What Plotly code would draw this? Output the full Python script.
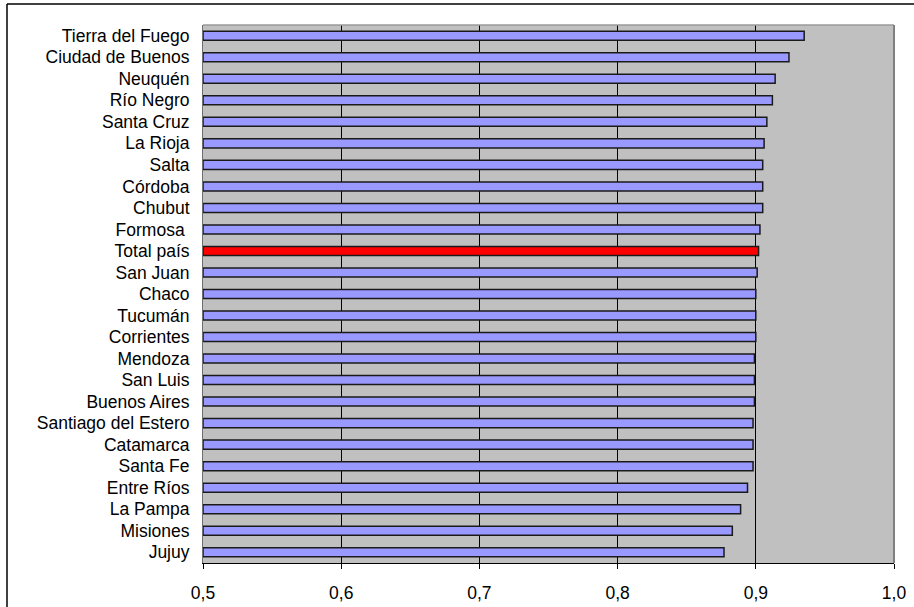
import plotly.graph_objects as go

# Province indicator values (top to bottom)
provincias = [
    "Tierra del Fuego", "Ciudad de Buenos", "Neuquén", "Río Negro", "Santa Cruz",
    "La Rioja", "Salta", "Córdoba", "Chubut", "Formosa\u00a0", "Total país",
    "San Juan", "Chaco", "Tucumán", "Corrientes", "Mendoza", "San Luis",
    "Buenos Aires", "Santiago del Estero", "Catamarca", "Santa Fe",
    "Entre Ríos", "La Pampa", "Misiones", "Jujuy",
]
valores = [
    0.935, 0.924, 0.914, 0.912, 0.908,
    0.906, 0.905, 0.905, 0.905, 0.903, 0.902,
    0.901, 0.900, 0.900, 0.900, 0.899, 0.899,
    0.899, 0.898, 0.898, 0.898,
    0.894, 0.889, 0.883, 0.877,
]
tick_vals = [0.5, 0.6, 0.7, 0.8, 0.9, 1.0]
tick_text = ["0,5", "0,6", "0,7", "0,8", "0,9", "1,0"]

base = 0.5
colores = ["#FF0000" if p == "Total país" else "#9999FF" for p in provincias]

W, H = 914, 607
L, R, T, B = 203, 894, 25, 563  # plot area in pixels


def px_x(x):
    return (x - L) / (R - L)


def px_y(y):
    return (B - y) / (B - T)


fig = go.Figure(
    go.Bar(
        y=provincias,
        x=[v - base for v in valores],
        base=base,
        orientation="h",
        width=0.42,
        marker=dict(color=colores, line=dict(color="#1a1a1a", width=1.5)),
        hovertemplate="%{y}: %{customdata}<extra></extra>",
        customdata=valores,
    )
)

font = dict(family="Liberation Sans, Arial, sans-serif", size=17.5, color="#000000")

fig.update_layout(
    width=W,
    height=H,
    margin=dict(l=L, r=W - R, t=T, b=H - B, pad=0),
    paper_bgcolor="#FFFFFF",
    plot_bgcolor="#C0C0C0",
    showlegend=False,
    font=font,
    xaxis=dict(
        range=[0.5, 1.0],
        tickmode="array",
        tickvals=tick_vals,
        ticktext=tick_text,
        showgrid=True,
        gridcolor="#000000",
        gridwidth=1,
        zeroline=False,
        showline=True,
        linecolor="#000000",
        linewidth=1,
        ticks="outside",
        ticklen=5,
        tickcolor="#000000",
        tickfont=font,
        ticklabelstandoff=9,
        automargin=False,
        fixedrange=True,
    ),
    yaxis=dict(
        categoryorder="array",
        categoryarray=provincias,
        tickmode="array",
        tickvals=provincias,
        ticktext=provincias,
        autorange="reversed",
        showgrid=False,
        zeroline=False,
        showline=True,
        linecolor="#6e6e6e",
        linewidth=1,
        ticks="",
        tickfont=font,
        ticklabelstandoff=9,
        automargin=False,
        fixedrange=True,
    ),
    shapes=[
        # plot area frame (top and right)
        dict(type="line", xref="paper", yref="paper", x0=0, x1=1, y0=1, y1=1,
             line=dict(color="#9a9a9a", width=1.5)),
        dict(type="line", xref="paper", yref="paper", x0=1, x1=1, y0=0, y1=1,
             line=dict(color="#808080", width=2)),
        # outer chart frame
        dict(type="line", xref="paper", yref="paper",
             x0=px_x(7), x1=px_x(W + 5), y0=px_y(4), y1=px_y(4),
             line=dict(color="#000000", width=1.5)),
        dict(type="line", xref="paper", yref="paper",
             x0=px_x(7), x1=px_x(7), y0=px_y(4), y1=px_y(H + 5),
             line=dict(color="#000000", width=1.5)),
    ],
)

fig.write_html("out.html")
